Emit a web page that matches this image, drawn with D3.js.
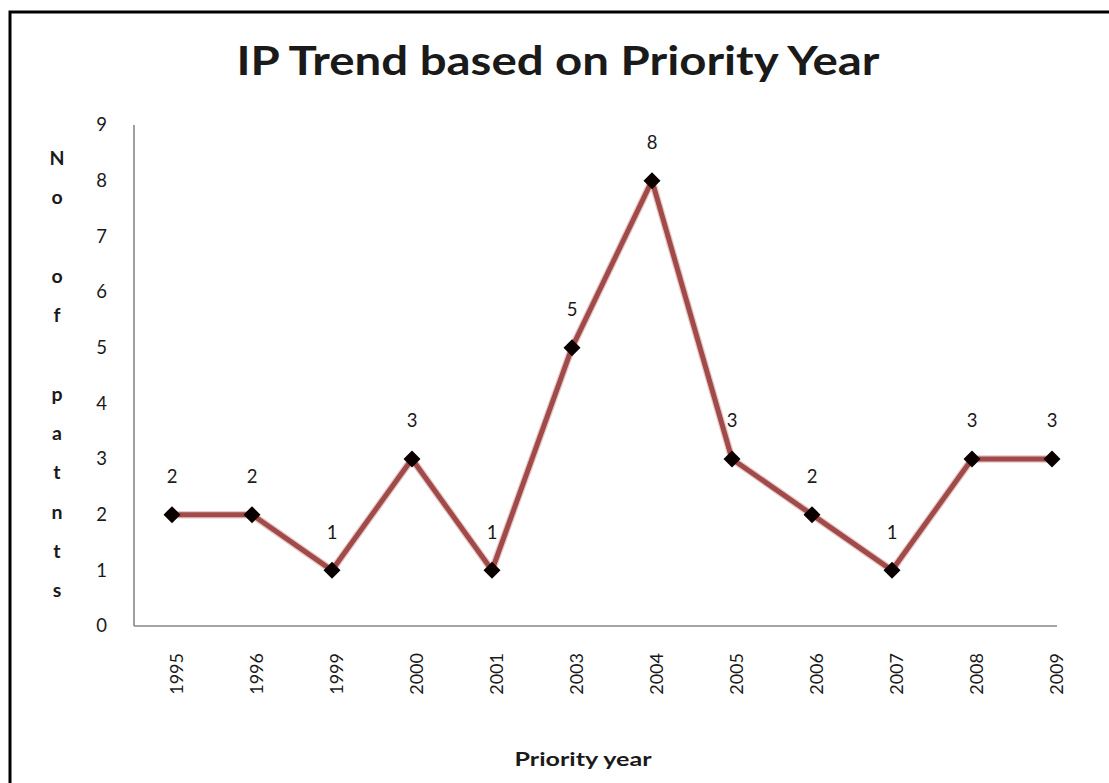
<!DOCTYPE html>
<html>
<head>
<meta charset="utf-8">
<script src="https://cdn.jsdelivr.net/npm/d3@7"></script>
<style>
  body { margin: 0; background: #fff; }
  text { font-family: Lato, "Open Sans", sans-serif; fill: #1a1a1a; }
</style>
</head>
<body>
<svg id="chart" width="1109" height="783"></svg>
<script>
// data
const years = ["1995", "1996", "1999", "2000", "2001", "2003", "2004", "2005", "2006", "2007", "2008", "2009"];
const patents = [2, 2, 1, 3, 1, 5, 8, 3, 2, 1, 3, 3];
const yTicks = [0, 1, 2, 3, 4, 5, 6, 7, 8, 9];
const titleText = "IP Trend based on Priority Year";
const xTitle = "Priority year";
const yTitleLines = ["N", "o", "", "o", "f", "", "p", "a", "t", "n", "t", "s"];

const width = 1109, height = 783;
const plot = { left: 134, right: 1057, top: 125, bottom: 626 };

const svg = d3.select("#chart");

// outer frame (right and bottom fall outside the picture)
svg.append("rect")
  .attr("x", 10).attr("y", 12)
  .attr("width", 1130).attr("height", 820)
  .attr("fill", "#fff")
  .attr("stroke", "#000")
  .attr("stroke-width", 3);

const x = d3.scalePoint()
  .domain(years)
  .range([172, 1052]);
const y = d3.scaleLinear()
  .domain([0, 9])
  .range([plot.bottom, plot.top]);

// title
svg.append("text")
  .attr("x", 558).attr("y", 75)
  .attr("text-anchor", "middle")
  .attr("font-size", 41)
  .attr("font-weight", "bold")
  .attr("textLength", 643)
  .attr("lengthAdjust", "spacingAndGlyphs")
  .text(titleText);

// y axis
const yAxis = d3.axisLeft(y)
  .tickValues(yTicks)
  .tickSize(0)
  .tickPadding(27)
  .tickFormat(d3.format("d"));
const gy = svg.append("g")
  .attr("transform", `translate(${plot.left},0)`)
  .call(yAxis);
gy.select(".domain").remove();
gy.selectAll("text")
  .attr("font-size", 18.5)
  .attr("font-family", "Lato, sans-serif")
  .attr("fill", "#222");

// x axis labels
const xAxis = d3.axisBottom(x).tickSize(0);
const gx = svg.append("g")
  .attr("transform", `translate(0,${plot.bottom})`)
  .call(xAxis);
gx.select(".domain").remove();
gx.selectAll("text")
  .attr("font-size", 18)
  .attr("font-family", "Lato, sans-serif")
  .attr("fill", "#222")
  .attr("text-anchor", "end")
  .attr("dy", "0.35em")
  .attr("transform", "translate(4,27) rotate(-90)")
  .attr("x", 0).attr("y", 0);

// axis lines
svg.append("line")
  .attr("x1", plot.left).attr("x2", plot.left)
  .attr("y1", plot.top).attr("y2", plot.bottom)
  .attr("stroke", "#878787").attr("stroke-width", 1.6);
svg.append("line")
  .attr("x1", plot.left).attr("x2", plot.right)
  .attr("y1", plot.bottom).attr("y2", plot.bottom)
  .attr("stroke", "#878787").attr("stroke-width", 1.6);

// series line
const line = d3.line()
  .x((d, i) => x(years[i]))
  .y(d => y(d));
svg.append("path")
  .datum(patents)
  .attr("fill", "none")
  .attr("stroke", "#e8c8c8")
  .attr("stroke-width", 7.5)
  .attr("stroke-linejoin", "round")
  .attr("d", line);
svg.append("path")
  .datum(patents)
  .attr("fill", "none")
  .attr("stroke", "#a04b49")
  .attr("stroke-width", 5)
  .attr("stroke-linejoin", "round")
  .attr("d", line);

// diamond markers
svg.append("g")
  .selectAll("path")
  .data(patents)
  .join("path")
  .attr("d", d3.symbol(d3.symbolSquare, 145))
  .attr("transform", (d, i) => `translate(${x(years[i])},${y(d)}) rotate(45)`)
  .attr("fill", "#0a0000");

// data labels
svg.append("g")
  .selectAll("text")
  .data(patents)
  .join("text")
  .attr("x", (d, i) => x(years[i]))
  .attr("y", d => y(d) - 38)
  .attr("dy", "0.35em")
  .attr("text-anchor", "middle")
  .attr("font-size", 18.5)
  .attr("fill", "#222")
  .text(d => d);

// x axis title
svg.append("text")
  .attr("x", 583).attr("y", 766)
  .attr("text-anchor", "middle")
  .attr("font-size", 18)
  .attr("font-weight", "bold")
  .attr("textLength", 137)
  .attr("lengthAdjust", "spacingAndGlyphs")
  .text(xTitle);

// y axis title, one letter per line
svg.append("text")
  .attr("text-anchor", "middle")
  .attr("font-size", 19.5)
  .attr("font-weight", "bold")
  .selectAll("tspan")
  .data(yTitleLines)
  .join("tspan")
  .attr("x", 57)
  .attr("y", (d, i) => 165 + i * 39.3)
  .text(d => d);
</script>
</body>
</html>
